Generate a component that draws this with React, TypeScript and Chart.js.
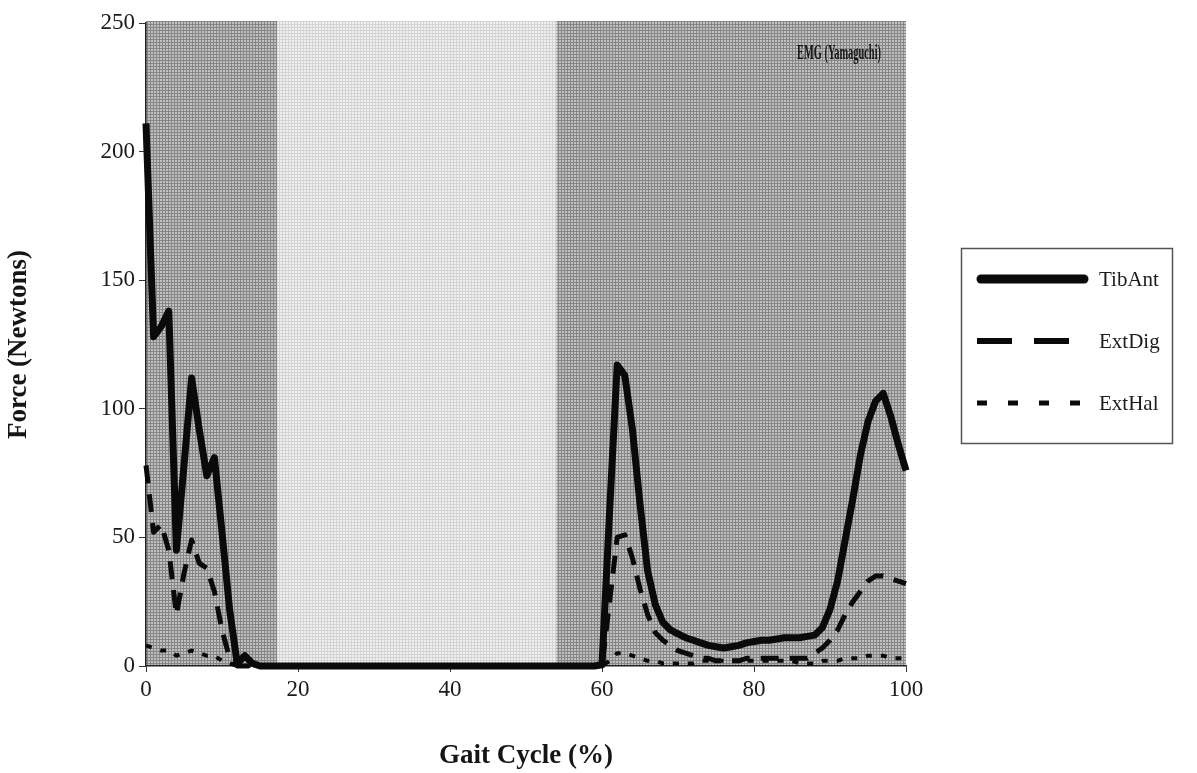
import React, { useEffect, useRef } from 'react';
import { Chart, registerables } from 'chart.js';

Chart.register(...registerables);

// ---- data ----
const gaitPct = [
  0, 1, 2, 3, 4, 5, 6, 7, 8, 9,
  10, 11, 12, 13, 14, 15, 16, 17, 18, 19,
  20, 21, 22, 23, 24, 25, 26, 27, 28, 29,
  30, 31, 32, 33, 34, 35, 36, 37, 38, 39,
  40, 41, 42, 43, 44, 45, 46, 47, 48, 49,
  50, 51, 52, 53, 54, 55, 56, 57, 58, 59,
  60, 61, 62, 63, 64, 65, 66, 67, 68, 69,
  70, 71, 72, 73, 74, 75, 76, 77, 78, 79,
  80, 81, 82, 83, 84, 85, 86, 87, 88, 89,
  90, 91, 92, 93, 94, 95, 96, 97, 98, 99,
  100,
];

const tibAnt = [
  211, 128, 132, 138, 45, 78, 112, 92, 74, 81,
  52, 22, 1, 4, 1, 0, 0, 0, 0, 0,
  0, 0, 0, 0, 0, 0, 0, 0, 0, 0,
  0, 0, 0, 0, 0, 0, 0, 0, 0, 0,
  0, 0, 0, 0, 0, 0, 0, 0, 0, 0,
  0, 0, 0, 0, 0, 0, 0, 0, 0, 0,
  0.5, 60, 117, 113, 92, 63, 37, 24, 17, 14,
  12.5, 11, 10, 9, 8, 7.5, 7, 7.5, 8, 9,
  9.5, 10, 10, 10.5, 11, 11, 11, 11.5, 12, 15,
  22, 33, 49, 65, 82, 95, 103, 106, 97, 86,
  76,
];

const extDig = [
  78, 52, 55, 45, 20, 36, 49, 40, 38, 29,
  14, 3, 0, 0, 0, 0, 0, 0, 0, 0,
  0, 0, 0, 0, 0, 0, 0, 0, 0, 0,
  0, 0, 0, 0, 0, 0, 0, 0, 0, 0,
  0, 0, 0, 0, 0, 0, 0, 0, 0, 0,
  0, 0, 0, 0, 0, 0, 0, 0, 0, 0,
  0, 25, 50, 51, 42, 30, 20, 13, 10, 8,
  6, 5, 4, 3, 3, 2, 2, 2, 2, 3,
  3, 3, 3, 3, 3, 3, 3, 3, 5, 7,
  10, 14, 20, 25, 29, 33, 35, 35, 34, 33,
  32,
];

const extHal = [
  8, 7, 6, 6, 4, 5, 6, 5, 4, 4,
  2, 1, 0, 0, 0, 0, 0, 0, 0, 0,
  0, 0, 0, 0, 0, 0, 0, 0, 0, 0,
  0, 0, 0, 0, 0, 0, 0, 0, 0, 0,
  0, 0, 0, 0, 0, 0, 0, 0, 0, 0,
  0, 0, 0, 0, 0, 0, 0, 0, 0, 0,
  0, 2, 5, 5, 4, 3, 2, 2, 1, 1,
  1, 1, 1, 2, 2, 2, 2, 2, 2, 2,
  2, 2, 2, 2, 2, 2, 1, 1, 1, 2,
  2, 2, 3, 3, 3, 4, 4, 4, 3, 3,
  3,
];

const seriesLabels = ['TibAnt', 'ExtDig', 'ExtHal'];
const xTicks = [0, 20, 40, 60, 80, 100];
const yTicks = [0, 50, 100, 150, 200, 250];
const phaseBounds = [0, 17.3, 54, 100];
const phaseTones = ['dark', 'light', 'dark'];
const panelTitle = 'EMG (Yamaguchi)';
const xTitle = 'Gait Cycle (%)';
const yTitle = 'Force (Newtons)';

// ---- styles ----
const FONT = "'Liberation Serif', 'Times New Roman', serif";
const lineStyles = [
  { width: 7, dash: [] as number[], legendWidth: 9, legendDash: [] as number[], cap: 'round' as CanvasLineCap },
  { width: 5, dash: [18, 11], legendWidth: 6, legendDash: [35, 22], cap: 'butt' as CanvasLineCap },
  { width: 4, dash: [6, 9], legendWidth: 5, legendDash: [10, 21], cap: 'butt' as CanvasLineCap },
];

const toPoints = (vals: number[]) => gaitPct.map((x, i) => ({ x, y: vals[i] }));

function makePattern(ctx: CanvasRenderingContext2D, base: string, ink: string) {
  const c = document.createElement('canvas');
  c.width = 3;
  c.height = 3;
  const g = c.getContext('2d')!;
  g.fillStyle = base;
  g.fillRect(0, 0, 3, 3);
  g.fillStyle = ink;
  g.fillRect(0, 0, 3, 1);
  g.fillRect(0, 0, 1, 3);
  return ctx.createPattern(c, 'repeat');
}

const phasePlugin = {
  id: 'phaseShade',
  beforeDraw(chart: any) {
    const { ctx, chartArea, scales } = chart;
    const xs = scales.x;
    const tones: Record<string, CanvasPattern | null> = {
      dark: makePattern(ctx, '#c0c0c0', '#868686'),
      light: makePattern(ctx, '#f0f0f0', '#d3d3d3'),
    };
    ctx.save();
    for (let i = 0; i < phaseTones.length; i++) {
      const x0 = xs.getPixelForValue(phaseBounds[i]);
      const x1 = xs.getPixelForValue(phaseBounds[i + 1]);
      ctx.fillStyle = tones[phaseTones[i]] as any;
      ctx.fillRect(x0, chartArea.top - 2, x1 - x0, chartArea.bottom - chartArea.top + 2);
    }
    ctx.restore();
  },
};

const overlayPlugin = {
  id: 'overlay',
  afterDraw(chart: any) {
    const { ctx, chartArea } = chart;
    ctx.save();
    // panel title
    ctx.font = `bold 22px ${FONT}`;
    ctx.fillStyle = '#151515';
    ctx.textAlign = 'right';
    ctx.textBaseline = 'middle';
    ctx.fillText(panelTitle, chartArea.right - 25, 53, 84);

    // legend
    const bx = 961, by = 248, bw = 211, bh = 195;
    ctx.fillStyle = '#ffffff';
    ctx.fillRect(bx, by, bw, bh);
    ctx.strokeStyle = '#555';
    ctx.lineWidth = 1.5;
    ctx.setLineDash([]);
    ctx.strokeRect(bx + 0.5, by + 0.5, bw, bh);
    chart.data.datasets.forEach((ds: any, i: number) => {
      const y = 279 + i * 62;
      const st = lineStyles[i];
      ctx.beginPath();
      ctx.setLineDash(st.legendDash);
      ctx.lineWidth = st.legendWidth;
      ctx.lineCap = st.cap;
      ctx.strokeStyle = ds.borderColor;
      ctx.moveTo(i === 0 ? 981 : 977, y);
      ctx.lineTo(i === 0 ? 1084 : 1087, y);
      ctx.stroke();
      ctx.setLineDash([]);
      ctx.font = `21px ${FONT}`;
      ctx.fillStyle = '#1c1c1c';
      ctx.textAlign = 'left';
      ctx.textBaseline = 'middle';
      ctx.fillText(ds.label, 1099, y + 1);
    });
    ctx.restore();
  },
};

export default function App() {
  const ref = useRef<HTMLCanvasElement>(null);

  useEffect(() => {
    const series = [tibAnt, extDig, extHal];
    const chart = new Chart(ref.current!, {
      type: 'line',
      data: {
        datasets: series.map((vals, i) => ({
          label: seriesLabels[i],
          data: toPoints(vals),
          borderColor: '#0a0a0a',
          borderWidth: lineStyles[i].width,
          borderDash: lineStyles[i].dash,
          borderCapStyle: 'butt',
          borderJoinStyle: 'round',
          pointRadius: 0,
          tension: 0,
          fill: false,
          clip: false,
        })),
      },
      options: {
        animation: false,
        responsive: true,
        maintainAspectRatio: false,
        layout: { padding: { top: 23, right: 291, left: 0, bottom: 0 } },
        plugins: {
          legend: { display: false },
          tooltip: { enabled: false },
        },
        scales: {
          x: {
            type: 'linear',
            min: 0,
            max: 100,
            afterFit: (s: any) => { s.height = 107; },
            afterBuildTicks: (s: any) => { s.ticks = xTicks.map((v) => ({ value: v })); },
            ticks: { font: { family: FONT, size: 23 }, color: '#1a1a1a', padding: 4, maxRotation: 0 },
            grid: { drawOnChartArea: false, drawTicks: true, tickLength: 6, color: '#333', lineWidth: 1 },
            border: { display: true, color: '#222', width: 1.5 },
            title: { display: true, text: xTitle, font: { family: FONT, size: 27, weight: 'bold' }, color: '#151515', padding: { top: 0, bottom: 1 } },
          },
          y: {
            type: 'linear',
            min: 0,
            max: 250,
            afterFit: (s: any) => { s.width = 146; },
            afterBuildTicks: (s: any) => { s.ticks = yTicks.map((v) => ({ value: v })); },
            ticks: { font: { family: FONT, size: 23 }, color: '#1a1a1a', padding: 4 },
            grid: { drawOnChartArea: false, drawTicks: true, tickLength: 7, color: '#333', lineWidth: 1 },
            border: { display: true, color: '#222', width: 1.5 },
            title: { display: true, text: yTitle, font: { family: FONT, size: 27, weight: 'bold' }, color: '#151515', padding: { top: 3, bottom: 0 } },
          },
        },
      },
      plugins: [phasePlugin, overlayPlugin],
    } as any);
    return () => chart.destroy();
  }, []);

  return (
    <div style={{ position: 'fixed', left: 0, top: 0, width: 1197, height: 773, background: '#ffffff' }}>
      <canvas ref={ref} />
    </div>
  );
}
